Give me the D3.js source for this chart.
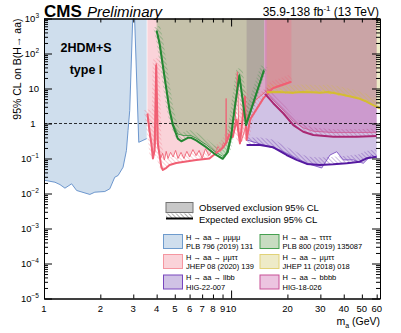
<!DOCTYPE html>
<html>
<head>
<meta charset="utf-8">
<script src="https://cdn.jsdelivr.net/npm/d3@7"></script>
<style>
body { margin: 0; background: #fff; }
svg { font-family: "Liberation Sans", Arial, Helvetica, sans-serif; }
</style>
</head>
<body>
<svg id="chart"></svg>
<script>
/* ---- data (mass in GeV, 95% CL limit) ---- */
// H -> aa -> mumumumu, PLB 796 (2019) 131 (two pieces either side of the J/psi)
let mu4MassA = [1.0, 1.144, 1.217, 1.294, 1.405, 1.494, 1.758, 1.869, 2.113, 2.247, 2.389, 2.489, 2.646, 2.758, 2.813, 2.872, 2.98];
let mu4ObsA  = [0.024, 0.021, 0.018, 0.0142, 0.0189, 0.0122, 0.0094, 0.0109, 0.0114, 0.0136, 0.0292, 0.0327, 0.0564, 0.169, 0.63, 2.35, 1000];
let mu4MassB = [3.05, 3.21, 3.54];
let mu4ObsB  = [1000, 0.29, 0.37];

// H -> aa -> mumutautau, JHEP 08 (2020) 139
let mmttAMass = [3.57, 3.62, 3.67, 3.72, 3.78, 3.84, 3.9, 3.95, 3.98, 4.02, 4.1, 4.2, 4.3, 4.4, 4.5, 4.6, 4.75, 4.9, 5.05, 5.2, 5.4, 5.6, 5.8, 6.0, 6.25, 6.5, 6.75, 7.0, 7.3, 7.6, 7.9, 8.2, 8.5, 8.8, 9.1, 9.35, 9.41, 9.47, 9.8, 10.2, 10.5, 10.8, 11.0, 11.3, 11.8, 12.3, 13.6, 15.4, 17.4, 19.0, 21.0];
let mmttAObs  = [1.9, 0.9, 0.45, 0.35, 0.18, 0.12, 0.2, 0.3, 52, 0.35, 0.18, 0.1, 0.14, 0.09, 0.16, 0.1, 0.15, 0.11, 0.17, 0.1, 0.15, 0.1, 0.16, 0.11, 0.18, 0.12, 0.17, 0.1, 0.19, 0.12, 0.16, 0.13, 0.22, 0.16, 0.28, 0.25, 5.2, 0.35, 0.55, 0.45, 0.8, 30, 0.6, 0.3, 0.6, 1.7, 4.8, 8.3, 11.5, 13.5, 16];
let mmttAExpMass = [3.57, 3.67, 3.75, 3.82, 3.9, 3.98, 4.06, 4.24, 4.32, 4.51, 4.69, 5.09, 5.52, 6.51, 7.66, 8.32, 9.02, 9.41, 9.79, 10.2, 10.71, 11.15, 11.85, 12.1, 12.63, 14.9, 16.7, 18.8, 21.0];
let mmttAExp     = [1.9, 0.6, 0.26, 0.1, 0.17, 45, 0.26, 0.057, 0.047, 0.054, 0.065, 0.074, 0.08, 0.09, 0.1, 0.144, 0.2, 0.28, 0.47, 0.41, 1.3, 0.27, 5.8, 0.34, 1.3, 5.3, 10.1, 12.6, 15.6];

// H -> aa -> tautautautau, PLB 800 (2019) 135087
let ttttObsMass = [4.0, 4.15, 4.41, 4.69, 4.89, 5.19, 5.6, 6.12, 6.51, 7.36, 8.15, 9.02, 9.4, 9.59, 10.0, 10.41, 11.07, 12.02, 15.0];
let ttttObs     = [450, 180, 20, 2.6, 1.0, 0.5, 0.45, 0.45, 0.38, 0.25, 0.16, 0.115, 0.14, 0.2, 0.5, 2.6, 26, 1.0, 36];
let ttttExpMass = [4.0, 4.15, 4.41, 4.69, 4.89, 5.19, 5.42, 5.87, 6.12, 6.51, 7.36, 8.15, 9.02, 9.59, 10.0, 10.41, 11.07, 12.02, 15.0];
let ttttExp     = [450, 190, 21, 2.35, 0.88, 0.37, 0.31, 0.39, 0.39, 0.33, 0.21, 0.136, 0.098, 0.151, 0.41, 2.35, 23, 0.9, 33];

// H -> aa -> mumutautau, JHEP 11 (2018) 018
let mmttBMass = [15.5, 16.2, 17, 17.8, 18.6, 19.5, 20.4, 21.4, 22.4, 23.5, 24.6, 25.8, 27, 28.3, 29.6, 31, 32.5, 34, 35.6, 37.3, 39, 41, 43, 45, 47.5, 50, 52.5, 55, 58, 60, 62.5];
let mmttBObs  = [8.8, 7.6, 8.4, 7.9, 8.9, 7.4, 8.2, 7.1, 8.6, 7.7, 8.0, 9.1, 7.5, 8.3, 7.3, 8.8, 7.8, 7.0, 8.1, 6.4, 6.9, 6.0, 6.4, 5.5, 5.7, 4.8, 4.6, 3.8, 3.3, 2.9, 2.7];
let mmttBExpMass = [15.5, 18, 21, 24, 27, 30, 33, 36, 40, 44, 48, 52, 56, 60, 62.5];
let mmttBExp     = [7.8, 8.0, 7.6, 8.0, 7.8, 7.6, 7.9, 7.3, 6.5, 5.8, 5.2, 4.4, 3.6, 3.0, 2.7];

// H -> aa -> llbb, HIG-22-007
let llbbObsMass = [12.1, 18.25, 25.4, 30.5, 33.8, 36.7, 39.8, 45.0, 50.9, 56.4, 60.0];
let llbbObs     = [0.34, 0.175, 0.073, 0.0535, 0.126, 0.156, 0.091, 0.091, 0.073, 0.126, 0.103];
let llbbExpMass = [12.1, 14.3, 16.8, 19.8, 22.4, 25.4, 29.9, 35.2, 41.5, 48.7, 53.0, 60.0];
let llbbExp     = [0.243, 0.243, 0.209, 0.126, 0.091, 0.07, 0.065, 0.068, 0.073, 0.081, 0.101, 0.112];

// H -> aa -> bbbb, HIG-18-026
let bbbbMass = [15.2, 16.8, 19.0, 21.5, 24.3, 27.5, 35.2, 46.9, 60.0];
let bbbbObs  = [8.5, 4.6, 2.4, 1.15, 0.75, 0.6, 0.55, 0.55, 0.56];
let bbbbExp  = [7.0, 3.8, 1.96, 0.9, 0.58, 0.47, 0.42, 0.42, 0.44];

// axis ticks
let xTickValues = [1, 2, 3, 4, 5, 6, 7, 8, 9, 10, 20, 30, 40, 50, 60];
let yDecades = [-5, -4, -3, -2, -1, 0, 1, 2, 3];

let legendNames = ['H \u2192 aa \u2192 \u03bc\u03bc\u03bc\u03bc', 'H \u2192 aa \u2192 \u03bc\u03bc\u03c4\u03c4', 'H \u2192 aa \u2192 llbb',
                   'H \u2192 aa \u2192 \u03c4\u03c4\u03c4\u03c4', 'H \u2192 aa \u2192 \u03bc\u03bc\u03c4\u03c4', 'H \u2192 aa \u2192 bbbb'];
let legendRefs = ['PLB 796 (2019) 131', 'JHEP 08 (2020) 139', 'HIG-22-007',
                  'PLB 800 (2019) 135087', 'JHEP 11 (2018) 018', 'HIG-18-026'];

/* ---- layout ---- */
let width = 401;
let height = 333;
let padLeft = 44, padRight = 380, padTop = 18.5, padBottom = 298.5;

let svg = d3.select('#chart').attr('width', width).attr('height', height);
let defs = svg.append('defs');

defs.append('clipPath').attr('id', 'plotClip')
    .append('rect').attr('x', padLeft).attr('y', padTop)
    .attr('width', padRight - padLeft).attr('height', padBottom - padTop);

let xScale = d3.scaleLog().domain([1, 62.5]).range([padLeft, padRight]);
let yScale = d3.scaleLog().domain([1e-5, 1e3]).range([padBottom, padTop]);

let colors = {
    blue:    {fill: 'rgb(160,190,220)', alpha: 0.5,  line: 'rgb(95,140,200)',  thin: 'rgb(95,140,200)',  box: 'rgb(110,155,205)'},
    pink:    {fill: 'rgb(240,110,130)', alpha: 0.3,  line: 'rgb(240,95,115)',  thin: 'rgb(238,100,118)', box: 'rgb(245,150,160)'},
    green:   {fill: 'rgb(117,168,100)', alpha: 0.4,  line: 'rgb(35,135,50)',   thin: 'rgb(60,150,70)',   box: 'rgb(70,160,80)'},
    yellow:  {fill: 'rgb(200,188,72)',  alpha: 0.3,  line: 'rgb(212,188,50)',  thin: 'rgb(222,200,70)',  box: 'rgb(225,210,120)'},
    purple:  {fill: 'rgb(120,80,180)',  alpha: 0.35, line: 'rgb(85,25,160)',   thin: 'rgb(125,80,195)',  box: 'rgb(120,70,190)'},
    magenta: {fill: 'rgb(195,70,160)',  alpha: 0.32, line: 'rgb(170,40,115)',  thin: 'rgb(205,95,150)',  box: 'rgb(200,80,150)'}
};

let addHatch = (id, color) => {
    let p = defs.append('pattern').attr('id', id)
        .attr('patternUnits', 'userSpaceOnUse')
        .attr('width', 3).attr('height', 3)
        .attr('patternTransform', 'rotate(-45)');
    p.append('line').attr('x1', 0.5).attr('y1', 0).attr('x2', 0.5).attr('y2', 3)
        .attr('stroke', color).attr('stroke-width', 0.7);
};
Object.keys(colors).forEach(k => addHatch('hatch-' + k, colors[k].line));
addHatch('hatch-gray', 'rgb(140,140,140)');

let zip = (ms, vs) => ms.map((m, i) => [m, vs[i]]);
let line = d3.line().x(d => xScale(d[0])).y(d => yScale(d[1]));
let ceiling = 1000;
let regionPoints = pts => pts.concat([[pts[pts.length - 1][0], ceiling], [pts[0][0], ceiling]]);

let plot = svg.append('g').attr('clip-path', 'url(#plotClip)');

/* observed exclusion regions: from the observed limit up to the top */
let regions = [
    {c: 'blue',    pts: zip(mu4MassA, mu4ObsA)},
    {c: 'blue',    pts: zip(mu4MassB, mu4ObsB)},
    {c: 'purple',  pts: zip(llbbObsMass, llbbObs)},
    {c: 'magenta', pts: zip(bbbbMass, bbbbObs)},
    {c: 'yellow',  pts: zip(mmttBMass, mmttBObs)},
    {c: 'pink',    pts: zip(mmttAMass, mmttAObs)},
    {c: 'green',   pts: zip(ttttObsMass, ttttObs)}
];
plot.selectAll('path.region')
    .data(regions)
    .enter()
    .append('path')
    .attr('class', 'region')
    .attr('d', d => line(regionPoints(d.pts)) + 'Z')
    .attr('fill', d => colors[d.c].fill)
    .attr('fill-opacity', d => colors[d.c].alpha)
    .attr('stroke', 'none');

/* B = 1 reference */
plot.append('path')
    .attr('d', line([[1, 1], [62.5, 1]]))
    .attr('stroke', '#000').attr('stroke-width', 0.8)
    .attr('stroke-dasharray', '3,2').attr('fill', 'none');

/* expected limits: hatched band + thick line */
let expected = [
    {c: 'pink',    pts: zip(mmttAExpMass, mmttAExp)},
    {c: 'green',   pts: zip(ttttExpMass, ttttExp)},
    {c: 'yellow',  pts: zip(mmttBExpMass, mmttBExp)},
    {c: 'purple',  pts: zip(llbbExpMass, llbbExp)},
    {c: 'magenta', pts: zip(bbbbMass, bbbbExp)}
];
plot.selectAll('path.hatch')
    .data(expected)
    .enter()
    .append('path')
    .attr('class', 'hatch')
    .attr('d', d => line(d.pts))
    .attr('transform', 'translate(0,-4)')
    .attr('fill', 'none')
    .attr('stroke', d => 'url(#hatch-' + d.c + ')')
    .attr('stroke-width', 7)
    .attr('stroke-linejoin', 'round')
    .attr('stroke-opacity', 0.42);

/* observed limit lines (thin) */
plot.selectAll('path.obs')
    .data(regions)
    .enter()
    .append('path')
    .attr('class', 'obs')
    .attr('d', d => line(d.pts))
    .attr('fill', 'none')
    .attr('stroke', d => colors[d.c].thin)
    .attr('stroke-width', 0.9);

plot.selectAll('path.exp')
    .data(expected)
    .enter()
    .append('path')
    .attr('class', 'exp')
    .attr('d', d => line(d.pts))
    .attr('fill', 'none')
    .attr('stroke', d => colors[d.c].line)
    .attr('stroke-width', 2)
    .attr('stroke-linejoin', 'round');

/* ---- axes ---- */
let minorY = [];
yDecades.slice(0, -1).forEach(e => {
    for (let k = 2; k <= 9; k++) minorY.push(k * Math.pow(10, e));
});
let majorY = yDecades.map(e => Math.pow(10, e));

let styleAxis = g => {
    g.select('.domain').attr('stroke', '#000');
    g.selectAll('line').attr('stroke', '#000');
    g.selectAll('text').remove();
};

svg.append('g').attr('transform', 'translate(' + padLeft + ',0)')
    .call(d3.axisLeft(yScale).tickValues(majorY).tickSize(-8).tickSizeOuter(0).tickFormat(''))
    .call(styleAxis);
svg.append('g').attr('transform', 'translate(' + padLeft + ',0)')
    .call(d3.axisLeft(yScale).tickValues(minorY).tickSize(-4).tickSizeOuter(0).tickFormat(''))
    .call(styleAxis);
svg.append('g').attr('transform', 'translate(' + padRight + ',0)')
    .call(d3.axisRight(yScale).tickValues(majorY).tickSize(-8).tickSizeOuter(0).tickFormat(''))
    .call(styleAxis);
svg.append('g').attr('transform', 'translate(' + padRight + ',0)')
    .call(d3.axisRight(yScale).tickValues(minorY).tickSize(-4).tickSizeOuter(0).tickFormat(''))
    .call(styleAxis);

let xLong = [1, 10];
let xShort = xTickValues.filter(v => xLong.indexOf(v) < 0);
[[padBottom, d3.axisBottom], [padTop, d3.axisTop]].forEach(([yy, ax]) => {
    svg.append('g').attr('transform', 'translate(0,' + yy + ')')
        .call(ax(xScale).tickValues(xLong).tickSize(-8).tickSizeOuter(0).tickFormat(''))
        .call(styleAxis);
    svg.append('g').attr('transform', 'translate(0,' + yy + ')')
        .call(ax(xScale).tickValues(xShort).tickSize(-4).tickSizeOuter(0).tickFormat(''))
        .call(styleAxis);
});

// x tick labels
svg.append('g').selectAll('text')
    .data(xTickValues)
    .enter()
    .append('text')
    .attr('x', d => xScale(d))
    .attr('y', 312)
    .attr('text-anchor', 'middle')
    .attr('font-size', 9.5)
    .text(d => d);

// y tick labels
let yLab = svg.append('g').selectAll('text')
    .data(yDecades)
    .enter()
    .append('text')
    .attr('x', d => d === 0 ? 35.5 : 39)
    .attr('y', d => yScale(Math.pow(10, d)) + 3.5)
    .attr('text-anchor', 'end')
    .attr('font-size', 9.5);
yLab.each(function(d) {
    let t = d3.select(this);
    if (d === 0) { t.text('1'); return; }
    if (d === 1) { t.text('10'); return; }
    t.append('tspan').text('10');
    t.append('tspan').attr('font-size', 6.5).attr('dy', -4).text(d < 0 ? '\u2212' + (-d) : d);
});

// axis titles
svg.append('text')
    .attr('transform', 'translate(21,' + padTop + ') rotate(-90)')
    .attr('text-anchor', 'end')
    .attr('font-size', 10.5)
    .text('95% CL on B(H\u2192 aa)');

let xt = svg.append('text')
    .attr('x', padRight).attr('y', 325)
    .attr('text-anchor', 'end')
    .attr('font-size', 10.5);
xt.append('tspan').text('m');
xt.append('tspan').attr('font-size', 7).attr('dy', 2.5).text('a');
xt.append('tspan').attr('dy', -2.5).text(' (GeV)');

// header
svg.append('text').attr('x', 44).attr('y', 16.5)
    .attr('font-size', 17).attr('font-weight', 'bold').text('CMS');
svg.append('text').attr('x', 87).attr('y', 16.5)
    .attr('font-size', 15).attr('font-style', 'italic').text('Preliminary');
let lumi = svg.append('text').attr('x', 379).attr('y', 16)
    .attr('text-anchor', 'end').attr('font-size', 12);
lumi.append('tspan').text('35.9-138 fb');
lumi.append('tspan').attr('font-size', 8).attr('dy', -5).text('-1');
lumi.append('tspan').attr('dy', 5).text(' (13 TeV)');

svg.append('text').attr('x', 86).attr('y', 51.5).attr('text-anchor', 'middle')
    .attr('font-size', 12.5).attr('font-weight', 'bold').text('2HDM+S');
svg.append('text').attr('x', 86).attr('y', 74).attr('text-anchor', 'middle')
    .attr('font-size', 12.5).attr('font-weight', 'bold').text('type I');

/* ---- legend ---- */
let leg = svg.append('g');
leg.append('rect').attr('x', 166).attr('y', 202.5).attr('width', 27).attr('height', 10)
    .attr('fill', 'rgb(200,200,200)').attr('stroke', 'rgb(115,115,115)').attr('stroke-width', 1);
leg.append('text').attr('x', 199).attr('y', 211).attr('font-size', 9.5)
    .text('Observed exclusion 95% CL');
leg.append('rect').attr('x', 166).attr('y', 213.5).attr('width', 27).attr('height', 4.5)
    .attr('fill', 'url(#hatch-gray)');
leg.append('line').attr('x1', 166).attr('x2', 193).attr('y1', 218.5).attr('y2', 218.5)
    .attr('stroke', '#000').attr('stroke-width', 2);
leg.append('text').attr('x', 199).attr('y', 222.5).attr('font-size', 9.5)
    .text('Expected exclusion 95% CL');

let legendKeys = ['blue', 'pink', 'purple', 'green', 'yellow', 'magenta'];
let legendItems = leg.selectAll('g.item')
    .data(legendKeys)
    .enter()
    .append('g')
    .attr('class', 'item')
    .attr('transform', (d, i) => 'translate(' + (i < 3 ? 163.5 : 260) + ',' + [234.5, 254.5, 275][i % 3] + ')');
legendItems.append('rect')
    .attr('x', 0).attr('y', 0).attr('width', 19).attr('height', 14)
    .attr('fill', d => colors[d].fill)
    .attr('fill-opacity', d => colors[d].alpha)
    .attr('stroke', d => colors[d].box)
    .attr('stroke-width', 1);
legendItems.append('text')
    .attr('x', 22.5).attr('y', 5)
    .attr('font-size', 7.5)
    .text((d, i) => legendNames[i]);
legendItems.append('text')
    .attr('x', 22.5).attr('y', 14.6)
    .attr('font-size', 7.5)
    .text((d, i) => legendRefs[i]);
</script>
</body>
</html>
